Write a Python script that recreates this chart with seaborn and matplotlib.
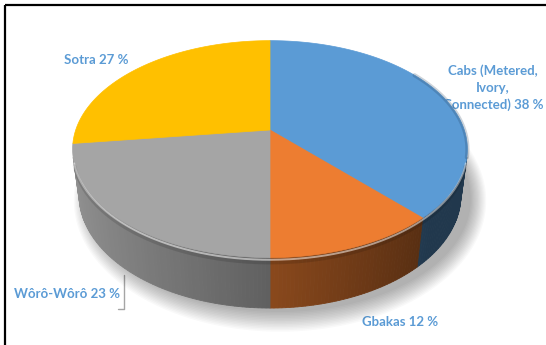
import numpy as np
import matplotlib
matplotlib.use("Agg")
import matplotlib.pyplot as plt
import seaborn as sns
from matplotlib.patches import Polygon
from matplotlib.colors import to_rgb

# ---- data ----
categories = ["Cabs (Metered,\nIvory,\nConnected)", "Gbakas", "Wôrô-Wôrô", "Sotra"]
shares = [38, 12, 23, 27]
slice_colors = ["#5B9BD5", "#ED7D31", "#A5A5A5", "#FFC000"]

sns.set_style("white")
plt.rcParams['font.family'] = ['Lato', 'DejaVu Sans']

fig = plt.figure(figsize=(5.46, 3.45), dpi=100)
ax = fig.add_axes([0, 0, 1, 1])
ax.set_xlim(0, 546)
ax.set_ylim(345, 0)
ax.axis('off')

# perspective view of a 3D pie
cx, cy, scale = 270, 130, 194.3
se = 0.541
ce = np.sqrt(1 - se ** 2)
D = 5.67 * ce
h = 0.29


def proj(phi_deg, yv=0.0):
    phi = np.radians(phi_deg)
    x, z = np.sin(phi), np.cos(phi)
    yp = yv * ce + z * se
    zp = -yv * se + z * ce
    f = D / (D + zp)
    return cx + scale * x * f, cy - scale * yp * f


bounds = np.concatenate([[0], np.cumsum(shares)]) / sum(shares) * 360
vis_lim = np.degrees(np.arccos(-1.0 / (D * ce)))
vis_a, vis_b = vis_lim, 360 - vis_lim

# soft shadow below the pie
arc_all = np.linspace(0, 360, 240)
bx, by = proj(arc_all, -h)
mx, my = bx.mean(), by.mean()
for s in np.linspace(0, 1, 14):
    k = 1.0 + 0.08 * s
    ax.add_patch(Polygon(list(zip(mx + 10 + (bx - mx) * k, my + 4 + (by - my) * (1 + 0.16 * s))),
                         closed=True, facecolor="black", alpha=0.022, lw=0, zorder=1))

# sides
for i, col in enumerate(slice_colors):
    a, b = max(bounds[i], vis_a), min(bounds[i + 1], vis_b)
    if a >= b:
        continue
    base = np.array(to_rgb(col))
    edges = np.linspace(a, b, max(2, int((b - a) / 1.0) + 1))
    for p0, p1 in zip(edges[:-1], edges[1:]):
        pm = np.radians((p0 + p1) / 2)
        f = np.clip(0.58 - 0.30 * np.sin(pm), 0.36, 0.9)
        c = base * f
        quad = [proj(p0), proj(p1), proj(p1, -h), proj(p0, -h)]
        ax.add_patch(Polygon(quad, closed=True, facecolor=c, edgecolor=c, lw=0.6, zorder=2))

# top faces
for i, col in enumerate(slice_colors):
    arc = np.linspace(bounds[i], bounds[i + 1], 160)
    xs, ys = proj(arc)
    verts = [(cx, cy)] + list(zip(xs, ys))
    ax.add_patch(Polygon(verts, closed=True, facecolor=col, edgecolor=col, lw=0.5, zorder=3))

# bevel on the right part of the rim
arc = np.linspace(55, vis_a, 100)
xs, ys = proj(arc)
ax.plot(xs, ys, color="#1F3B57", alpha=0.22, lw=3, zorder=3.5)

# rim highlight on the front
arc = np.linspace(vis_a + 2, vis_b - 2, 200)
xs, ys = proj(arc, -0.012)
ax.plot(xs, ys, color="white", alpha=0.5, lw=1.4, zorder=4)
xs, ys = proj(arc, -0.028)
ax.plot(xs, ys, color="black", alpha=0.12, lw=2.5, zorder=4)

# labels
lab_color = "#5B9BD5"
label_pos = [(493, 88), (400, 322), (67, 294), (96, 60)]
for cat, sh, (lx, ly) in zip(categories, shares, label_pos):
    ax.text(lx, ly, f"{cat} {sh} %", color=lab_color, fontsize=9.5, fontweight="bold",
            ha="center", va="center", linespacing=1.45, zorder=0.5)

# leader line for Wôrô-Wôrô
ax.plot([124, 124, 118], [275, 309, 309], color="#A5A5A5", lw=1.0, zorder=0.5)

# frame (top and left)
ax.plot([5, 546], [5, 5], color="black", lw=1.6, zorder=5, solid_capstyle="butt")
ax.plot([5, 5], [5, 345], color="black", lw=1.6, zorder=5, solid_capstyle="butt")

fig.savefig("out.png", dpi=100, facecolor="white")
